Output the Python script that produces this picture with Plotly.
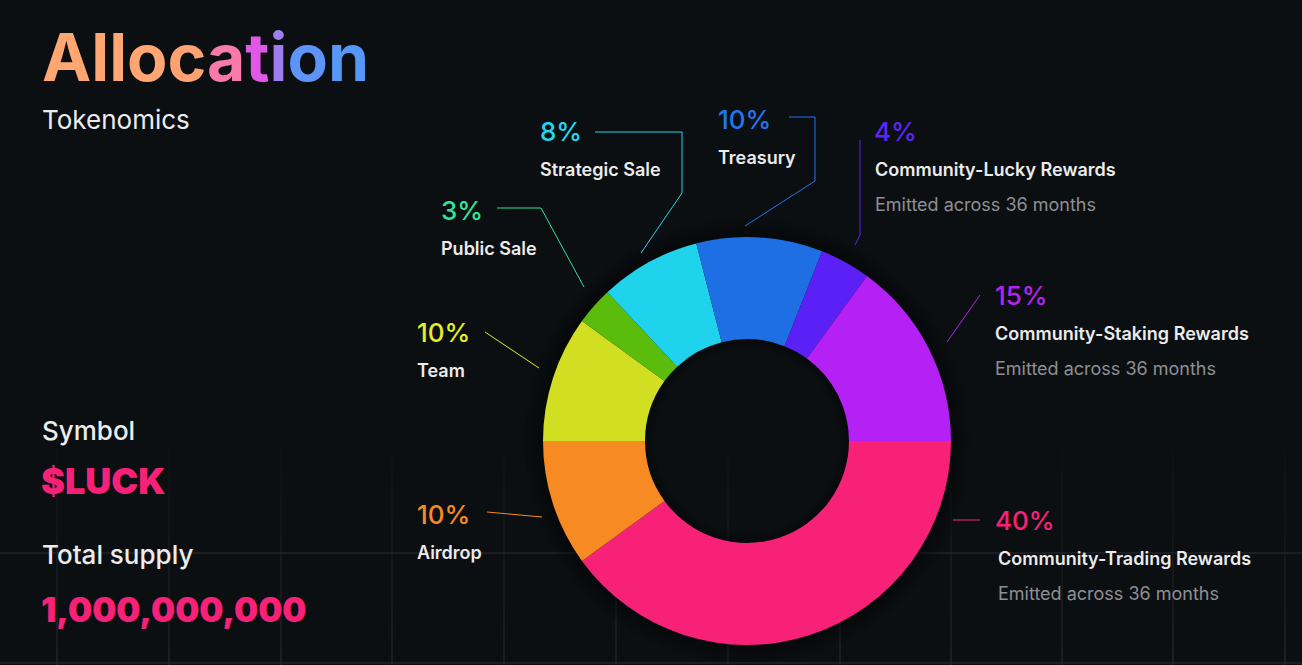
import plotly.graph_objects as go

# ---------------- data ----------------
labels = ["Community-Trading Rewards", "Airdrop", "Team", "Public Sale",
          "Strategic Sale", "Treasury", "Community-Lucky Rewards",
          "Community-Staking Rewards"]
values = [40, 10, 10, 3, 8, 10, 4, 15]
slice_colors = ["#F72277", "#F78A22", "#D2DE22", "#5ABD0C",
                "#20D3EC", "#1E6FE3", "#5A20F5", "#B520F5"]
pct_colors = ["#F72277", "#F78A22", "#E3EE24", "#2EE59A",
              "#22D6EE", "#2176F0", "#5A26F5", "#B522F2"]
notes = ["Emitted across 36 months", "", "", "", "", "",
         "Emitted across 36 months", "Emitted across 36 months"]

title_text = "Allocation"
title_colors = ["#FFA673", "#FFA673", "#FFA673", "#FFA673", "#FFA273",
                "#F77AAA", "#E158E6", "#9E7DF0", "#5E94F8", "#5598F8"]
subtitle = "Tokenomics"
symbol_label, symbol_value = "Symbol", "$LUCK"
supply_label, supply_value = "Total supply", "1,000,000,000"

# ---------------- layout constants (pixels) ----------------
W, H = 1302, 665
BG = "#0C0F12"
CX, CY, R = 747, 441, 204

# label anchor positions: (x of percentage, y of percentage line, x of text)
label_pos = {
    "Community-Trading Rewards": (993, 520, 998),
    "Airdrop": (415, 514, 417),
    "Team": (415, 332, 417),
    "Public Sale": (439, 210, 441),
    "Strategic Sale": (538, 131, 540),
    "Treasury": (716, 119, 718),
    "Community-Lucky Rewards": (872, 131, 875),
    "Community-Staking Rewards": (993, 295, 995),
}
leader_paths = {
    "Community-Trading Rewards": [(953, 520), (980, 520)],
    "Airdrop": [(487, 512), (542, 517)],
    "Team": [(485, 332), (539, 368)],
    "Public Sale": [(497, 208), (541, 208), (584, 287)],
    "Strategic Sale": [(595, 132), (682, 132), (682, 193), (641, 253)],
    "Treasury": [(789, 117), (815, 117), (815, 181), (745, 226)],
    "Community-Lucky Rewards": [(860, 140), (860, 235), (855, 245)],
    "Community-Staking Rewards": [(980, 295), (947, 342)],
}

FONT = "Inter, 'Noto Sans', sans-serif"

fig = go.Figure()
fig.add_trace(go.Pie(
    labels=labels, values=values, sort=False, direction="clockwise",
    rotation=90, hole=0.5, textinfo="none", hoverinfo="label+percent",
    marker=dict(colors=slice_colors, line=dict(width=0)),
    domain=dict(x=[(CX - R) / W, (CX + R) / W],
                y=[(H - CY - R) / H, (H - CY + R) / H]),
    showlegend=False,
))

shapes = []
# faint fading grid
grid_x = [57, 169, 281, 392, 504, 616, 728, 840, 951, 1062, 1173, 1285]
nseg = 10
y0g, y1g = 450, 665
for gx in grid_x:
    for k in range(nseg):
        ya = y0g + (y1g - y0g) * k / nseg
        yb = y0g + (y1g - y0g) * (k + 1) / nseg
        a = 0.10 + 0.9 * (k + 1) / nseg
        shapes.append(dict(type="line", xref="x", yref="y", x0=gx, x1=gx,
                           y0=ya, y1=yb, layer="below",
                           line=dict(color=f"rgba(40,44,50,{a:.2f})", width=1)))
for gy in [553, 663]:
    shapes.append(dict(type="line", xref="x", yref="y", x0=0, x1=W,
                       y0=gy, y1=gy, layer="below",
                       line=dict(color="rgba(40,44,50,1)", width=1)))

# soft shadow around donut
for i in range(12):
    rr = R + 1 + i * 1.5
    a = 0.30 * (1 - i / 12)
    shapes.append(dict(type="circle", xref="x", yref="y",
                       x0=CX - rr, x1=CX + rr, y0=CY - rr, y1=CY + rr,
                       layer="below",
                       line=dict(color=f"rgba(0,0,0,{a:.3f})", width=2)))
# inner inset shadow
RI = R * 0.5
for i in range(6):
    rr = RI - 1 - i * 1.5
    a = 0.25 * (1 - i / 6)
    shapes.append(dict(type="circle", xref="x", yref="y",
                       x0=CX - rr, x1=CX + rr, y0=CY - rr, y1=CY + rr,
                       layer="below",
                       line=dict(color=f"rgba(0,0,0,{a:.3f})", width=2)))

# leader lines
for lab, col in zip(labels, pct_colors):
    pts = leader_paths[lab]
    d = "M " + " L ".join(f"{x},{y}" for x, y in pts)
    shapes.append(dict(type="path", xref="x", yref="y", path=d,
                       line=dict(color=col, width=1), layer="above"))

ann = []
# title
title_html = "".join(f"<span style='color:{c}'>{ch}</span>"
                     for ch, c in zip(title_text, title_colors))
ann.append(dict(x=40, y=57, text=title_html, xanchor="left", yanchor="middle",
                font=dict(family=FONT, size=66, weight=700, color="#FFA673")))
ann.append(dict(x=40, y=119, text=subtitle, xanchor="left", yanchor="middle",
                font=dict(family=FONT, size=26, weight=400, color="#ECECEC")))
ann.append(dict(x=40, y=430, text=symbol_label, xanchor="left", yanchor="middle",
                font=dict(family=FONT, size=26, weight=500, color="#ECECEC")))
ann.append(dict(x=39, y=481, text=symbol_value, xanchor="left", yanchor="middle",
                font=dict(family=FONT, size=36, weight=900, color="#F72277")))
ann.append(dict(x=40, y=554, text=supply_label, xanchor="left", yanchor="middle",
                font=dict(family=FONT, size=26, weight=500, color="#ECECEC")))
ann.append(dict(x=39, y=609, text=supply_value, xanchor="left", yanchor="middle",
                font=dict(family=FONT, size=34, weight=900, color="#F72277")))

for lab, v, col, note in zip(labels, values, pct_colors, notes):
    px, py, lx = label_pos[lab]
    ann.append(dict(x=px, y=py, text=f"{v}%", xanchor="left", yanchor="middle",
                    font=dict(family=FONT, size=26, weight=500, color=col)))
    ann.append(dict(x=lx - 2, y=py + 38, text=lab, xanchor="left", yanchor="middle",
                    font=dict(family=FONT, size=18, weight=600, color="#EBEBEB")))
    if note:
        ann.append(dict(x=lx - 2, y=py + 73, text=note, xanchor="left",
                        yanchor="middle",
                        font=dict(family=FONT, size=18, weight=400,
                                  color="#8C8F94")))
for a in ann:
    a.update(xref="x", yref="y", showarrow=False)

fig.update_layout(
    width=W, height=H, margin=dict(l=0, r=0, t=0, b=0),
    paper_bgcolor=BG, plot_bgcolor=BG,
    xaxis=dict(range=[0, W], visible=False, fixedrange=True),
    yaxis=dict(range=[H, 0], visible=False, fixedrange=True),
    shapes=shapes, annotations=ann, showlegend=False,
)
fig.write_html("out.html")
